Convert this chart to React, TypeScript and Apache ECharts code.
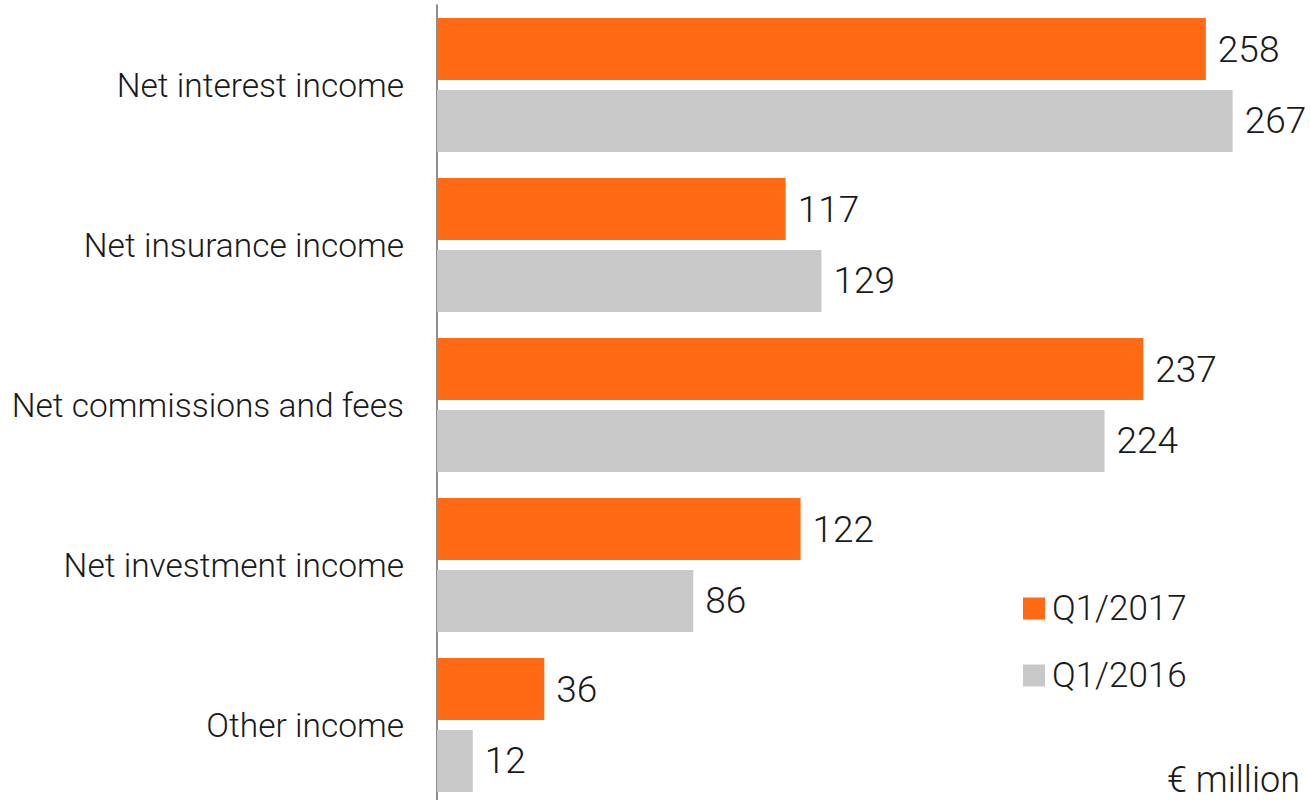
import React, { useEffect, useRef } from "react";
import * as echarts from "echarts";

const categories = [
  "Net interest income",
  "Net insurance income",
  "Net commissions and fees",
  "Net investment income",
  "Other income",
];
const q12017 = [258, 117, 237, 122, 36];
const q12016 = [267, 129, 224, 86, 12];
const seriesNames = ["Q1/2017", "Q1/2016"];
const unitLabel = "€ million";

const FONT = "Roboto";
const TEXT = "#1a1a1a";

export default function App() {
  const ref = useRef<HTMLDivElement>(null);
  useEffect(() => {
    if (!ref.current) return;
    const chart = echarts.init(ref.current, null, { renderer: "svg" });
    const label = {
      show: true,
      position: "right",
      distance: 12,
      fontSize: 37,
      fontFamily: FONT,
      fontWeight: 300,
      color: TEXT,
    };
    chart.setOption({
      animation: false,
      backgroundColor: "#ffffff",
      grid: {
        left: 437,
        width: 894,
        top: 5,
        bottom: -5,
        containLabel: false,
        outerBoundsMode: "none",
      },
      xAxis: {
        type: "value",
        min: 0,
        max: 300,
        show: false,
      },
      yAxis: {
        type: "category",
        data: categories,
        inverse: true,
        axisLine: { show: true, lineStyle: { color: "#666666", width: 1.5 } },
        axisTick: { show: false },
        splitLine: { show: false },
        axisLabel: {
          fontSize: 33.5,
          fontFamily: FONT,
          fontWeight: 300,
          color: TEXT,
          margin: 33,
        },
      },
      legend: {
        orient: "vertical",
        left: 1018,
        top: 586,
        itemWidth: 22,
        itemHeight: 22,
        itemGap: 32,
        icon: "rect",
        textStyle: {
          fontSize: 35,
          fontFamily: FONT,
          fontWeight: 300,
          color: TEXT,
          lineHeight: 34,
          padding: [0, 0, 0, 2],
        },
        data: seriesNames,
      },
      graphic: [
        {
          type: "text",
          right: 10,
          bottom: 2,
          style: { text: unitLabel, fontSize: 36, fontFamily: FONT, fontWeight: 300, fill: TEXT },
        },
      ],
      series: [
        {
          name: seriesNames[0],
          type: "bar",
          data: q12017,
          barWidth: 62,
          barGap: "16%",
          itemStyle: { color: "#ff6a13" },
          label,
        },
        {
          name: seriesNames[1],
          type: "bar",
          data: q12016,
          barWidth: 62,
          barGap: "16%",
          itemStyle: { color: "#c8c8c8" },
          label,
        },
      ],
    });
    return () => chart.dispose();
  }, []);
  return (
    <div
      ref={ref}
      style={{ position: "absolute", left: 0, top: 0, width: 1310, height: 800 }}
    />
  );
}
